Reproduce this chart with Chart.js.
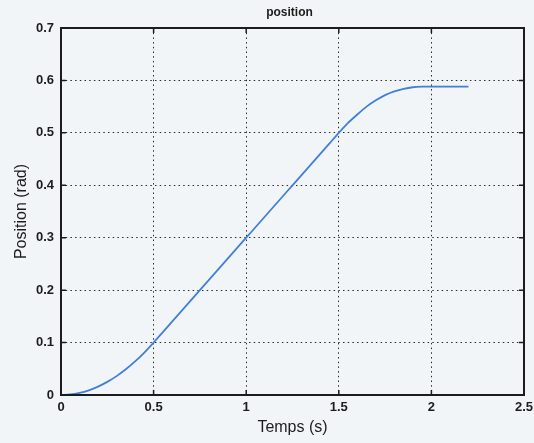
<!DOCTYPE html>
<html>
<head>
<meta charset="utf-8">
<title>position</title>
<script src="https://cdn.jsdelivr.net/npm/chart.js@4/dist/chart.umd.min.js"></script>
<style>
  html, body { margin: 0; padding: 0; background: #f2f5f8; }
  #wrap { width: 534px; height: 443px; }
</style>
</head>
<body>
<div id="wrap"><canvas id="c" width="534" height="443"></canvas></div>
<script>
// Time samples (s) and joint position (rad)
const times = [
  0.00, 0.05, 0.10, 0.15, 0.20, 0.25, 0.30, 0.35, 0.40, 0.45,
  0.50, 0.55, 0.60, 0.65, 0.70, 0.75, 0.80, 0.85, 0.90, 0.95,
  1.00, 1.05, 1.10, 1.15, 1.20, 1.25, 1.30, 1.35, 1.40, 1.45,
  1.50, 1.55, 1.60, 1.65, 1.70, 1.75, 1.80, 1.85, 1.90, 1.95,
  2.00, 2.05, 2.10, 2.15, 2.20
];
const positions = [
  0.000, 0.001, 0.004, 0.009, 0.016, 0.025, 0.036, 0.049, 0.064, 0.081,
  0.100, 0.120, 0.140, 0.160, 0.180, 0.200, 0.220, 0.240, 0.260, 0.280,
  0.300, 0.320, 0.340, 0.360, 0.380, 0.400, 0.420, 0.440, 0.460, 0.480,
  0.500, 0.519, 0.535, 0.550, 0.562, 0.572, 0.579, 0.584, 0.587, 0.588,
  0.588, 0.588, 0.588, 0.588, 0.588
];
const xTicks = [0, 0.5, 1, 1.5, 2, 2.5];
const yTicks = [0, 0.1, 0.2, 0.3, 0.4, 0.5, 0.6, 0.7];

const titleText = 'position';
const xTitle = 'Temps (s)';
const yTitle = 'Position (rad)';

const BG = '#f2f5f8';
const INK = '#1c1c1c';

// Page background
const background = {
  id: 'background',
  beforeDraw(chart) {
    const ctx = chart.ctx;
    ctx.save();
    ctx.fillStyle = BG;
    ctx.fillRect(0, 0, chart.width, chart.height);
    ctx.restore();
  }
};

// Axes frame with inward ticks, plus title and axis labels
const frame = {
  id: 'frame',
  afterDraw(chart) {
    const { ctx, chartArea: a, scales } = chart;
    ctx.save();
    ctx.strokeStyle = INK;
    ctx.lineWidth = 2;
    ctx.setLineDash([]);
    ctx.strokeRect(a.left, a.top, a.right - a.left, a.bottom - a.top);

    ctx.lineWidth = 1.5;
    const tl = 5;
    ctx.beginPath();
    xTicks.forEach(v => {
      const px = scales.x.getPixelForValue(v);
      ctx.moveTo(px, a.bottom); ctx.lineTo(px, a.bottom - tl);
      ctx.moveTo(px, a.top); ctx.lineTo(px, a.top + tl);
    });
    yTicks.forEach(v => {
      const py = scales.y.getPixelForValue(v);
      ctx.moveTo(a.left, py); ctx.lineTo(a.left + tl, py);
      ctx.moveTo(a.right, py); ctx.lineTo(a.right - tl, py);
    });
    ctx.stroke();

    const cx = (a.left + a.right) / 2;
    const cy = (a.top + a.bottom) / 2;
    ctx.fillStyle = INK;
    ctx.textAlign = 'center';
    ctx.textBaseline = 'middle';
    ctx.font = 'bold 12px "Liberation Sans", Arial, sans-serif';
    ctx.fillText(titleText, cx - 3, 13);
    ctx.font = '16px "Liberation Sans", Arial, sans-serif';
    ctx.fillText(xTitle, cx, 428);
    ctx.translate(22, cy);
    ctx.rotate(-Math.PI / 2);
    ctx.fillText(yTitle, 0, 0);
    ctx.restore();
  }
};

const tickFont = { family: '"Liberation Sans", Arial, sans-serif', size: 13, weight: 'bold' };
const plainNumber = v => String(Math.round(v * 10) / 10);

new Chart(document.getElementById('c'), {
  type: 'line',
  data: {
    datasets: [{
      data: times.map((t, i) => ({ x: t, y: positions[i] })),
      borderColor: '#4080d8',
      borderWidth: 1.8,
      pointRadius: 0,
      fill: false,
      tension: 0.2
    }]
  },
  options: {
    responsive: false,
    animation: false,
    devicePixelRatio: 1,
    layout: { padding: { top: 28, right: 10, left: 0, bottom: 0 } },
    plugins: { legend: { display: false }, tooltip: { enabled: false }, title: { display: false } },
    scales: {
      x: {
        type: 'linear',
        min: 0, max: 2.5,
        afterBuildTicks(scale) { scale.ticks = xTicks.map(v => ({ value: v })); },
        afterFit(scale) { scale.height = 48; scale.paddingRight = 0; scale.paddingLeft = 0; },
        ticks: { font: tickFont, color: INK, padding: 5, maxRotation: 0, callback: plainNumber },
        grid: { color: '#2a2a2a', lineWidth: 1, drawTicks: false },
        border: { display: false, dash: [1.5, 3.2] }
      },
      y: {
        min: 0, max: 0.7,
        afterBuildTicks(scale) { scale.ticks = yTicks.map(v => ({ value: v })); },
        afterFit(scale) { scale.width = 61; scale.paddingTop = 0; scale.paddingBottom = 0; },
        ticks: { font: tickFont, color: INK, padding: 7, callback: plainNumber },
        grid: { color: '#2a2a2a', lineWidth: 1, drawTicks: false },
        border: { display: false, dash: [1.5, 3.2] }
      }
    }
  },
  plugins: [background, frame]
});
</script>
</body>
</html>
